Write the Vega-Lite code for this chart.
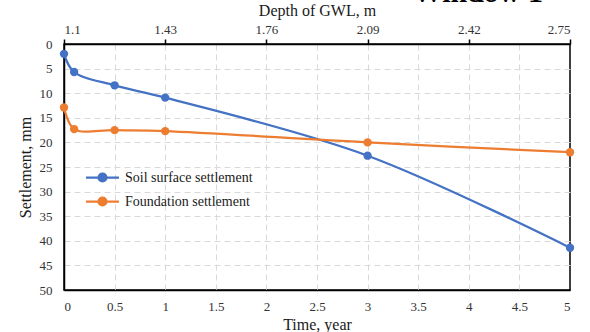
{
  "$schema": "https://vega.github.io/schema/vega-lite/v6.json",
  "width": 506,
  "height": 246,
  "autosize": {"type": "none"},
  "padding": {"left": 64, "top": 44, "right": 20, "bottom": 42},
  "background": "white",
  "config": {
    "font": "Liberation Serif",
    "view": {"stroke": "black", "strokeWidth": 1.5},
    "axis": {
      "labelFont": "Liberation Serif",
      "titleFont": "Liberation Serif",
      "labelFontSize": 13,
      "titleFontSize": 16,
      "titleFontWeight": "normal",
      "labelColor": "#333333",
      "titleColor": "#1a1a1a",
      "domainColor": "black",
      "domainWidth": 1.5,
      "tickColor": "black",
      "tickWidth": 1.5,
      "gridColor": "#d9d9d9",
      "gridDash": [6, 4],
      "gridWidth": 1
    },
    "legend": {
      "labelFont": "Liberation Serif",
      "labelFontSize": 14,
      "labelColor": "#1a1a1a"
    }
  },
  "title": {
    "text": "Window 1",
    "anchor": "end",
    "frame": "group",
    "font": "Liberation Serif",
    "fontSize": 30,
    "fontWeight": "bold",
    "color": "black",
    "dx": -27,
    "dy": 10
  },
  "layer": [
    {
      "data": {"values": [{"depth": 1.1}, {"depth": 2.75}]},
      "mark": {"type": "point", "opacity": 0},
      "encoding": {
        "x": {
          "field": "depth",
          "type": "quantitative",
          "scale": {"domain": [1.1, 2.75], "nice": false, "zero": false},
          "axis": {
            "orient": "top",
            "title": "Depth of GWL, m",
            "values": [1.1, 1.43, 1.76, 2.09, 2.42, 2.75],
            "labelExpr": "'' + datum.value",
            "labelFont": "Liberation Serif",
            "titleFont": "Liberation Serif",
            "grid": false,
            "ticks": true,
            "tickSize": 5,
            "labelPadding": 3,
            "titlePadding": 5
          }
        }
      }
    },
    {
      "data": {
        "values": [
          {"series": "Soil surface settlement", "time": 0, "settlement": 2.0},
          {"series": "Soil surface settlement", "time": 0.1, "settlement": 5.7},
          {"series": "Soil surface settlement", "time": 0.5, "settlement": 8.4},
          {"series": "Soil surface settlement", "time": 1, "settlement": 10.9},
          {"series": "Soil surface settlement", "time": 3, "settlement": 22.7},
          {"series": "Soil surface settlement", "time": 5, "settlement": 41.4},
          {"series": "Foundation settlement", "time": 0, "settlement": 12.9},
          {"series": "Foundation settlement", "time": 0.1, "settlement": 17.3},
          {"series": "Foundation settlement", "time": 0.5, "settlement": 17.5},
          {"series": "Foundation settlement", "time": 1, "settlement": 17.7},
          {"series": "Foundation settlement", "time": 3, "settlement": 20.0},
          {"series": "Foundation settlement", "time": 5, "settlement": 22.0}
        ]
      },
      "encoding": {
        "x": {
          "field": "time",
          "type": "quantitative",
          "scale": {"domain": [0, 5], "nice": false, "zero": false},
          "axis": {
            "orient": "bottom",
            "title": "Time, year",
            "values": [0, 0.5, 1, 1.5, 2, 2.5, 3, 3.5, 4, 4.5, 5],
            "labelExpr": "'' + datum.value",
            "labelFont": "Liberation Serif",
            "titleFont": "Liberation Serif",
            "grid": true,
            "gridOpacity": {"condition": {"test": "datum.value == 0 || datum.value == 5", "value": 0}, "value": 1},
            "ticks": false,
            "labelPadding": 10,
            "titlePadding": 3
          }
        },
        "y": {
          "field": "settlement",
          "type": "quantitative",
          "scale": {"domain": [0, 50], "reverse": true, "nice": false},
          "axis": {
            "title": "Settlement, mm",
            "values": [0, 5, 10, 15, 20, 25, 30, 35, 40, 45, 50],
            "labelExpr": "'' + datum.value",
            "labelFont": "Liberation Serif",
            "titleFont": "Liberation Serif",
            "grid": true,
            "gridOpacity": {"condition": {"test": "datum.value == 0 || datum.value == 50", "value": 0}, "value": 1},
            "ticks": false,
            "labelPadding": 12,
            "titlePadding": 6
          }
        },
        "color": {
          "field": "series",
          "type": "nominal",
          "scale": {
            "domain": ["Soil surface settlement", "Foundation settlement"],
            "range": ["#4472C4", "#ED7D31"]
          },
          "legend": {
            "title": null,
            "orient": "none",
            "legendX": 26,
            "legendY": 121,
            "symbolType": "M-1.5,0L1.5,0M-0.36,0A0.36,0.36,0,1,1,0.36,0A0.36,0.36,0,1,1,-0.36,0Z",
            "symbolSize": 484,
            "symbolStrokeWidth": 2.25,
            "labelOffset": 10,
            "rowPadding": 3
          }
        }
      },
      "layer": [
        {
          "mark": {"type": "line", "interpolate": "catmull-rom", "strokeWidth": 2.25}
        },
        {
          "mark": {"type": "point", "filled": true, "size": 70, "opacity": 1}
        }
      ]
    }
  ],
  "resolve": {"scale": {"x": "independent"}}
}
